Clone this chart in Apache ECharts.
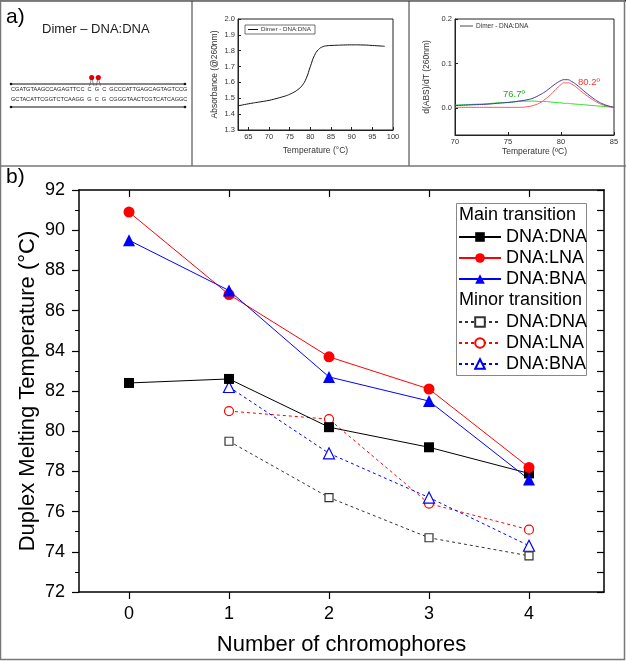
<!DOCTYPE html>
<html>
<head>
<meta charset="utf-8">
<script src="https://cdn.jsdelivr.net/npm/echarts@6/dist/echarts.min.js"></script>
<style>
  html, body { margin: 0; padding: 0; background: #fff; }
  #chart { width: 626px; height: 661px; }
</style>
</head>
<body>
<div id="chart"></div>
<script>
  // panel b) melting temperatures
  const chromophores = [0, 1, 2, 3, 4]
  const mainDNA = [82.4, 82.6, 80.2, 79.2, 77.9]
  const mainLNA = [90.9, 86.8, 83.7, 82.1, 78.2]
  const mainBNA = [89.5, 87.0, 82.7, 81.5, 77.6]
  const minorX = [1, 2, 3, 4]
  const minorDNA = [79.5, 76.7, 74.7, 73.8]
  const minorLNA = [81.0, 80.6, 76.4, 75.1]
  const minorBNA = [82.2, 78.9, 76.7, 74.3]

  // panel a) absorbance curve
  const absT = [62.5, 65, 68, 70, 72, 74, 75, 76, 77, 78, 79, 80, 81, 82, 83, 84, 85, 88, 90, 93, 95, 98]
  const absVal = [1.452, 1.465, 1.478, 1.487, 1.500, 1.515, 1.525, 1.538, 1.555, 1.580, 1.625, 1.700, 1.770, 1.808, 1.825, 1.831, 1.833, 1.836, 1.837, 1.836, 1.833, 1.828]

  // panel a) derivative curves
  const derT = [70, 71, 72, 73, 74, 75, 76, 77, 77.5, 78, 78.5, 79, 79.5, 80, 80.3, 80.6, 81, 81.5, 82, 82.5, 83, 83.5, 84, 84.5, 85]
  const derData = [0.006, 0.007, 0.008, 0.009, 0.011, 0.013, 0.016, 0.020, 0.024, 0.030, 0.037, 0.046, 0.055, 0.062, 0.064, 0.064, 0.060, 0.052, 0.042, 0.032, 0.023, 0.015, 0.009, 0.005, 0.002]
  const derMain = [0.002, 0.002, 0.002, 0.002, 0.002, 0.002, 0.002, 0.004, 0.007, 0.012, 0.020, 0.030, 0.042, 0.053, 0.057, 0.057, 0.054, 0.046, 0.036, 0.027, 0.019, 0.012, 0.007, 0.004, 0.002]
  const derMinor = [0.007, 0.008, 0.009, 0.010, 0.012, 0.013, 0.015, 0.016, 0.016, 0.015, 0.015, 0.014, 0.013, 0.012, 0.011, 0.011, 0.010, 0.009, 0.008, 0.007, 0.006, 0.005, 0.004, 0.003, 0.002]

  const tickValues = [0, 1, 2, 3, 4]
  const font = 'Liberation Sans, Arial, sans-serif'

  const zip = (xs, ys) => xs.map((x, i) => [x, ys[i]])

  const chart = echarts.init(document.getElementById('chart'))

  const smallAxis = {
    axisLine: { onZero: false, lineStyle: { color: '#222', width: 1 } },
    axisTick: { inside: true, length: 3, lineStyle: { color: '#222' } },
    axisLabel: { fontSize: 7.5, color: '#333', fontFamily: font, margin: 3 },
    splitLine: { show: false },
    nameMoveOverlap: false,
    nameTextStyle: { fontSize: 8.5, color: '#333', fontFamily: font }
  }

  const mainLine = (name, data, color, symbol, size) => ({
    name: name,
    type: 'line',
    xAxisIndex: 2,
    yAxisIndex: 2,
    data: data,
    symbol: symbol,
    symbolSize: size,
    itemStyle: { color: color },
    lineStyle: { color: color, width: 1 },
    z: 3
  })

  const minorLine = (name, data, color, symbol, size) => ({
    name: name,
    type: 'line',
    xAxisIndex: 2,
    yAxisIndex: 2,
    data: data,
    symbol: symbol,
    symbolSize: size,
    itemStyle: { color: '#fff', borderColor: color, borderWidth: 1.2 },
    lineStyle: { color: color, width: 1, type: [3, 3] },
    z: 2
  })

  const legendBase = {
    orient: 'vertical',
    left: 458,
    padding: 0,
    itemWidth: 42,
    itemHeight: 12,
    itemGap: 3,
    selectedMode: false,
    textStyle: { fontSize: 18, color: '#000', fontFamily: font },
    formatter: name => name.split(' ')[1],
    z: 6
  }

  chart.setOption({
    animation: false,
    textStyle: { fontFamily: font },
    grid: [
      { left: 238, right: 233, top: 19, bottom: 531, show: true, borderColor: '#222', borderWidth: 1 },
      { left: 455, right: 12, top: 19, bottom: 526, show: true, borderColor: '#222', borderWidth: 1 },
      { left: 79, right: 22, top: 190, bottom: 66 }
    ],
    legend: [
      Object.assign({}, legendBase, { top: 228, data: ['Main DNA:DNA', 'Main DNA:LNA', 'Main DNA:BNA'] }),
      Object.assign({}, legendBase, { top: 313, data: ['Minor DNA:DNA', 'Minor DNA:LNA', 'Minor DNA:BNA'] })
    ],
    xAxis: [
      Object.assign({}, smallAxis, {
        gridIndex: 0, type: 'value', min: 62.5, max: 100,
        axisTick: { inside: true, length: 3, customValues: [65, 70, 75, 80, 85, 90, 95, 100] },
        axisLabel: Object.assign({}, smallAxis.axisLabel, { customValues: [65, 70, 75, 80, 85, 90, 95, 100] }),
        name: 'Temperature (°C)', nameLocation: 'middle', nameGap: 16
      }),
      Object.assign({}, smallAxis, {
        gridIndex: 1, type: 'value', min: 70, max: 85, interval: 5,
        name: 'Temperature (ºC)', nameLocation: 'middle', nameGap: 12
      }),
      {
        gridIndex: 2, type: 'value', min: -0.5, max: 4.75, position: 'bottom',
        axisLine: { onZero: false, lineStyle: { color: '#000', width: 1.5 } },
        axisTick: { length: 7, customValues: tickValues, lineStyle: { color: '#000', width: 1.2 } },
        axisLabel: { customValues: tickValues, fontSize: 18, color: '#000', margin: 13, fontFamily: font },
        splitLine: { show: false },
        name: 'Number of chromophores', nameLocation: 'middle', nameGap: 42, nameMoveOverlap: false,
        nameTextStyle: { fontSize: 22, color: '#000', fontFamily: font }
      },
      {
        gridIndex: 2, type: 'value', min: -0.5, max: 4.75, position: 'top',
        axisLine: { onZero: false, lineStyle: { color: '#000', width: 1.5 } },
        axisTick: { inside: true, length: 7, customValues: tickValues, lineStyle: { color: '#000', width: 1.2 } },
        axisLabel: { show: false },
        splitLine: { show: false }
      }
    ],
    yAxis: [
      Object.assign({}, smallAxis, {
        gridIndex: 0, type: 'value', min: 1.3, max: 2.0, interval: 0.1,
        axisLabel: Object.assign({}, smallAxis.axisLabel, { formatter: v => v.toFixed(1) }),
        name: 'Absorbance (@260nm)', nameLocation: 'middle', nameGap: 19
      }),
      Object.assign({}, smallAxis, {
        gridIndex: 1, type: 'value', min: -0.06, max: 0.2,
        axisTick: { inside: true, length: 3, customValues: [0, 0.1, 0.2] },
        axisLabel: Object.assign({}, smallAxis.axisLabel, { customValues: [0, 0.1, 0.2], formatter: v => v.toFixed(1) }),
        name: 'd(ABS)/dT (260nm)', nameLocation: 'middle', nameGap: 24
      }),
      {
        gridIndex: 2, type: 'value', min: 72, max: 92, interval: 2, position: 'left',
        axisLine: { show: true, onZero: false, lineStyle: { color: '#000', width: 1.5 } },
        axisTick: { show: true, length: 7, lineStyle: { color: '#000', width: 1.2 } },
        minorTick: { show: true, splitNumber: 2, length: 4, lineStyle: { color: '#000', width: 1 } },
        axisLabel: { fontSize: 18, color: '#000', margin: 14, fontFamily: font },
        splitLine: { show: false },
        name: 'Duplex Melting Temperature (°C)', nameLocation: 'middle', nameGap: 40, nameMoveOverlap: false,
        nameTextStyle: { fontSize: 22, color: '#000', fontFamily: font }
      },
      {
        gridIndex: 2, type: 'value', min: 72, max: 92, interval: 2, position: 'right',
        axisLine: { show: true, onZero: false, lineStyle: { color: '#000', width: 1.5 } },
        axisTick: { show: true, inside: true, length: 7, lineStyle: { color: '#000', width: 1.2 } },
        minorTick: { show: true, splitNumber: 2, length: 7, lineStyle: { color: '#000', width: 1.2 } },
        axisLabel: { show: false },
        splitLine: { show: false }
      }
    ],
    series: [
      {
        name: 'Dimer - DNA:DNA', type: 'line', xAxisIndex: 0, yAxisIndex: 0,
        data: zip(absT, absVal), smooth: true, showSymbol: false,
        lineStyle: { color: '#111', width: 1 }
      },
      {
        name: 'deriv minor', type: 'line', xAxisIndex: 1, yAxisIndex: 1,
        data: zip(derT, derMinor), smooth: true, showSymbol: false,
        lineStyle: { color: '#22dd22', width: 1 }
      },
      {
        name: 'deriv main', type: 'line', xAxisIndex: 1, yAxisIndex: 1,
        data: zip(derT, derMain), smooth: true, showSymbol: false,
        lineStyle: { color: '#ff5555', width: 1 }
      },
      {
        name: 'deriv data', type: 'line', xAxisIndex: 1, yAxisIndex: 1,
        data: zip(derT, derData), smooth: true, showSymbol: false,
        lineStyle: { color: '#3a3aa0', width: 1 }
      },
      mainLine('Main DNA:DNA', zip(chromophores, mainDNA), '#000', 'rect', 10),
      mainLine('Main DNA:LNA', zip(chromophores, mainLNA), '#ff0000', 'circle', 11),
      mainLine('Main DNA:BNA', zip(chromophores, mainBNA), '#0000ff', 'triangle', 12),
      minorLine('Minor DNA:DNA', zip(minorX, minorDNA), '#333', 'rect', 8),
      minorLine('Minor DNA:LNA', zip(minorX, minorLNA), '#ff0000', 'circle', 9),
      minorLine('Minor DNA:BNA', zip(minorX, minorBNA), '#0000ff', 'triangle', 11)
    ],
    graphic: [
      // frames
      { type: 'rect', shape: { x: 0.5, y: 0.5, width: 624, height: 659 }, style: { fill: 'none', stroke: '#777', lineWidth: 1.5 }, z: 1 },
      { type: 'line', shape: { x1: 0, y1: 166, x2: 626, y2: 166 }, style: { stroke: '#777', lineWidth: 1.5 } },
      { type: 'line', shape: { x1: 192, y1: 0, x2: 192, y2: 166 }, style: { stroke: '#777', lineWidth: 1.5 } },
      { type: 'line', shape: { x1: 409, y1: 0, x2: 409, y2: 166 }, style: { stroke: '#777', lineWidth: 1.5 } },
      { type: 'line', shape: { x1: 0, y1: 0.5, x2: 626, y2: 0.5 }, style: { stroke: '#111', lineWidth: 2 } },
      // panel labels
      { type: 'text', left: 6, top: 7, style: { text: 'a)', fontSize: 21, fill: '#000', fontFamily: font } },
      { type: 'text', left: 6, top: 167, style: { text: 'b)', fontSize: 21, fill: '#000', fontFamily: font } },
      { type: 'text', left: 42, top: 23, style: { text: 'Dimer – DNA:DNA', fontSize: 13, fill: '#222', fontFamily: font } },
      // duplex sketch
      { type: 'line', shape: { x1: 11, y1: 84, x2: 185, y2: 84 }, style: { stroke: '#111', lineWidth: 1 } },
      { type: 'line', shape: { x1: 11, y1: 107, x2: 185, y2: 107 }, style: { stroke: '#111', lineWidth: 1 } },
      { type: 'circle', shape: { cx: 11, cy: 84, r: 1.3 }, style: { fill: '#111' } },
      { type: 'circle', shape: { cx: 185, cy: 84, r: 1.3 }, style: { fill: '#111' } },
      { type: 'circle', shape: { cx: 11, cy: 107, r: 1.3 }, style: { fill: '#111' } },
      { type: 'circle', shape: { cx: 185, cy: 107, r: 1.3 }, style: { fill: '#111' } },
      { type: 'text', left: 11, top: 86, style: { text: 'CGATGTAAGCCAGAGTTCC  C  G  C  GCCCATTGAGCAGTAGTCCG', fontSize: 5.6, fill: '#222', fontFamily: font } },
      { type: 'text', left: 11, top: 96, style: { text: 'GCTACATTCGGTCTCAAGG  G  C  G  CGGGTAACTCGTCATCAGGC', fontSize: 5.6, fill: '#222', fontFamily: font } },
      { type: 'polyline', shape: { points: [[89.5, 86], [91.7, 78], [94, 86]] }, style: { stroke: '#444', lineWidth: 0.6, fill: 'none' } },
      { type: 'polyline', shape: { points: [[96, 86], [98.3, 78], [100.5, 86]] }, style: { stroke: '#444', lineWidth: 0.6, fill: 'none' } },
      { type: 'circle', shape: { cx: 91.7, cy: 77.5, r: 2.6 }, style: { fill: '#e00000' } },
      { type: 'circle', shape: { cx: 98.3, cy: 77.5, r: 2.6 }, style: { fill: '#e00000' } },
      // small legends
      { type: 'rect', shape: { x: 245, y: 25, width: 70, height: 9 }, style: { fill: '#fff', stroke: '#333', lineWidth: 0.7 }, z: 5 },
      { type: 'line', shape: { x1: 248, y1: 29.5, x2: 258, y2: 29.5 }, style: { stroke: '#111', lineWidth: 1 }, z: 6 },
      { type: 'text', left: 261, top: 26, style: { text: 'Dimer - DNA:DNA', fontSize: 6.2, fill: '#333', fontFamily: font }, z: 6 },
      { type: 'line', shape: { x1: 460, y1: 26, x2: 473, y2: 26 }, style: { stroke: '#888', lineWidth: 1.5 }, z: 6 },
      { type: 'text', left: 476, top: 22.5, style: { text: 'Dimer - DNA:DNA', fontSize: 6.5, fill: '#333', fontFamily: font }, z: 6 },
      { type: 'text', left: 503, top: 89, style: { text: '76.7º', fontSize: 9.5, fill: '#22aa22', fontFamily: font }, z: 6 },
      { type: 'text', left: 578, top: 77, style: { text: '80.2º', fontSize: 9.5, fill: '#ff3333', fontFamily: font }, z: 6 },
      // main legend box and headers
      { type: 'rect', shape: { x: 456.5, y: 203.5, width: 130, height: 172 }, style: { fill: '#fff', stroke: '#888', lineWidth: 1 }, z: 4 },
      { type: 'text', left: 459, top: 206, style: { text: 'Main transition', fontSize: 18, fill: '#000', fontFamily: font }, z: 6 },
      { type: 'text', left: 459, top: 291, style: { text: 'Minor transition', fontSize: 18, fill: '#000', fontFamily: font }, z: 6 }
    ]
  })
</script>
</body>
</html>
